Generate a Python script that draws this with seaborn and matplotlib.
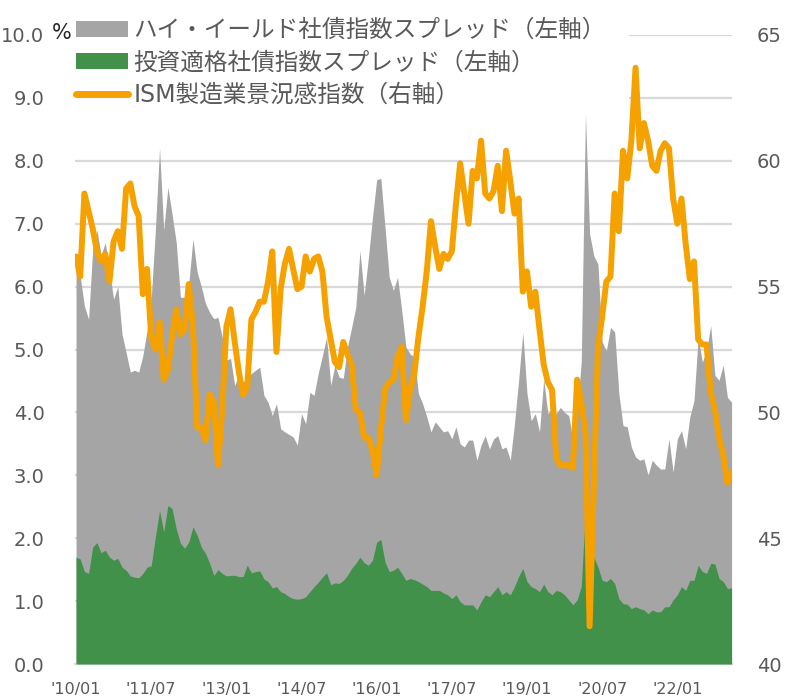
import numpy as np
import pandas as pd
import seaborn as sns
import matplotlib.pyplot as plt
from matplotlib.patches import Patch, Rectangle
from matplotlib.lines import Line2D

# monthly data, 2010/01 - 2023/02
hy_spread = [
    6.27, 6.16, 5.69, 5.48, 6.60, 6.90, 6.50, 6.70, 6.25, 5.80, 6.00, 5.25,  # 2010
    4.95, 4.64, 4.67, 4.64, 4.90, 5.30, 5.80, 6.90, 8.20, 6.90, 7.58, 7.15,  # 2011
    6.70, 5.83, 5.83, 6.05, 6.76, 6.23, 6.00, 5.73, 5.59, 5.49, 5.51, 5.20,  # 2012
    4.83, 4.86, 4.43, 4.59, 4.48, 4.55, 4.62, 4.67, 4.72, 4.27, 4.16, 3.95,  # 2013
    4.14, 3.74, 3.69, 3.65, 3.61, 3.48, 3.98, 3.82, 4.32, 4.27, 4.62, 4.90,  # 2014
    5.20, 4.43, 4.75, 4.56, 4.54, 5.04, 5.35, 5.67, 6.57, 5.86, 6.45, 7.10,  # 2015
    7.70, 7.72, 6.94, 6.15, 5.94, 6.15, 5.62, 5.04, 4.93, 4.88, 4.30, 4.14,  # 2016
    3.93, 3.69, 3.85, 3.77, 3.69, 3.71, 3.58, 3.77, 3.50, 3.45, 3.56, 3.56,  # 2017
    3.24, 3.48, 3.63, 3.42, 3.58, 3.63, 3.42, 3.45, 3.24, 3.82, 4.51, 5.27,  # 2018
    4.30, 3.87, 3.98, 3.69, 4.53, 3.98, 4.06, 3.98, 4.08, 4.00, 3.95, 3.56,  # 2019
    4.00, 4.80, 8.74, 6.84, 6.49, 6.36, 5.12, 4.98, 5.35, 5.28, 4.30, 3.79,  # 2020
    3.77, 3.45, 3.29, 3.24, 3.26, 3.00, 3.24, 3.16, 3.10, 3.10, 3.58, 3.05,  # 2021
    3.58, 3.71, 3.42, 3.93, 4.19, 5.20, 4.80, 4.98, 5.38, 4.59, 4.51, 4.75,  # 2022
    4.24, 4.16,                                                              # 2023
]

ig_spread = [
    1.70, 1.67, 1.47, 1.44, 1.86, 1.93, 1.77, 1.81, 1.70, 1.65, 1.68, 1.54,
    1.49, 1.40, 1.38, 1.37, 1.44, 1.54, 1.56, 2.02, 2.44, 2.10, 2.52, 2.47,
    2.15, 1.92, 1.84, 1.94, 2.18, 2.05, 1.86, 1.76, 1.60, 1.41, 1.50, 1.44,
    1.40, 1.41, 1.41, 1.39, 1.39, 1.57, 1.45, 1.47, 1.48, 1.35, 1.31, 1.21,
    1.23, 1.15, 1.12, 1.07, 1.04, 1.03, 1.04, 1.07, 1.15, 1.23, 1.30, 1.38,
    1.45, 1.26, 1.29, 1.28, 1.33, 1.41, 1.52, 1.60, 1.70, 1.61, 1.57, 1.65,
    1.94, 1.98, 1.62, 1.47, 1.49, 1.54, 1.44, 1.33, 1.36, 1.34, 1.31, 1.27,
    1.23, 1.17, 1.17, 1.17, 1.13, 1.10, 1.04, 1.10, 0.99, 0.94, 0.94, 0.94,
    0.86, 0.99, 1.10, 1.07, 1.15, 1.23, 1.10, 1.15, 1.10, 1.23, 1.39, 1.52,
    1.31, 1.23, 1.20, 1.15, 1.27, 1.15, 1.10, 1.17, 1.15, 1.10, 1.02, 0.94,
    1.02, 1.23, 2.45, 1.90, 1.70, 1.54, 1.33, 1.31, 1.36, 1.28, 1.04, 0.96,
    0.95, 0.88, 0.91, 0.88, 0.86, 0.80, 0.86, 0.83, 0.83, 0.91, 0.91, 1.02,
    1.10, 1.23, 1.17, 1.33, 1.33, 1.57, 1.47, 1.44, 1.60, 1.59, 1.36, 1.31,
    1.20, 1.21,
]

ism_pmi = [
    56.2, 55.4, 58.7, 58.0, 57.3, 56.4, 56.0, 56.3, 55.2, 56.8, 57.2, 56.5,
    58.9, 59.1, 58.2, 57.8, 54.7, 55.7, 53.0, 52.5, 53.6, 51.3, 51.7, 53.0,
    54.1, 53.1, 53.3, 55.1, 53.4, 49.4, 49.4, 48.9, 50.7, 50.4, 47.9, 50.1,
    53.4, 54.1, 52.8, 51.6, 50.7, 51.0, 53.7, 54.0, 54.4, 54.4, 55.2, 56.4,
    52.4, 54.9, 55.9, 56.5, 55.7, 54.9, 55.0, 56.2, 55.6, 56.1, 56.2, 55.6,
    53.8, 52.9, 52.0, 51.8, 52.8, 52.3, 51.9, 50.1, 50.0, 49.0, 49.0, 48.5,
    47.5, 49.3, 50.9, 51.2, 51.3, 52.2, 52.6, 49.7, 50.9, 51.5, 53.0, 54.2,
    55.6, 57.6, 56.6, 55.7, 56.3, 56.1, 56.4, 58.3, 59.9, 58.7, 57.5, 59.6,
    59.3, 60.8, 58.7, 58.5, 58.8, 59.8, 58.0, 60.4, 59.2, 57.9, 58.5, 54.8,
    55.6, 54.2, 54.8, 53.3, 51.9, 51.2, 50.9, 48.2, 47.9, 47.9, 47.9, 47.8,
    51.3, 50.4, 49.2, 41.5, 47.0, 52.6, 53.8, 55.2, 55.4, 58.7, 57.2, 60.4,
    59.3, 60.8, 63.7, 60.5, 61.5, 60.8, 59.8, 59.6, 60.4, 60.7, 60.5, 58.5,
    57.5, 58.5, 56.7, 55.3, 56.0, 52.9, 52.7, 52.7, 50.8, 50.1, 49.0, 48.3,
    47.2, 47.6,
]

tick_months = [0, 18, 36, 54, 72, 90, 108, 126, 144]
tick_labels = ["'10/01", "'11/07", "'13/01", "'14/07", "'16/01",
               "'17/07", "'19/01", "'20/07", "'22/01"]

series_names = ['ハイ・イールド社債指数スプレッド（左軸）',
                '投資適格社債指数スプレッド（左軸）',
                'ISM製造業景況感指数（右軸）']

GRAY = '#a5a5a5'
GREEN = '#41914a'
ORANGE = '#f5a100'
TXT = '#595959'
GRID = '#d9d9d9'

sns.set_theme(style='white')
plt.rcParams['font.family'] = ['DejaVu Sans', 'Noto Sans CJK JP']

df = pd.DataFrame({'month': np.arange(len(ism_pmi)),
                   'hy': hy_spread, 'ig': ig_spread, 'ism': ism_pmi})

W, H = 785, 697
fig = plt.figure(figsize=(W / 100, H / 100), dpi=100)
ax = fig.add_axes([75 / W, (H - 664) / H, (732 - 75) / W, (664 - 35) / H])
ax2 = ax.twinx()

# spreads as areas on the left axis
ax.fill_between(df['month'], df['hy'], color=GRAY, lw=0, zorder=2)
ax.fill_between(df['month'], df['ig'], color=GREEN, lw=0, zorder=3)

# ISM on the right axis
sns.lineplot(data=df, x='month', y='ism', ax=ax2, color=ORANGE, lw=4.3,
             legend=False, solid_joinstyle='round', solid_capstyle='round')

ax.set_xlim(-0.25, 157.1)
ax.set_ylim(0, 10)
ax2.set_ylim(40, 65)

ax.set_yticks(np.arange(0, 11))
ax.set_yticklabels([f'{v:.1f}' for v in np.arange(0, 11)])
ax2.set_yticks(np.arange(40, 66, 5))
ax.set_xticks(tick_months)
ax.set_xticklabels(tick_labels)

ax.grid(axis='y', color=GRID, lw=1.6)
ax.grid(axis='x', visible=False)
ax2.grid(False)
ax.set_axisbelow(True)

for s in ['left', 'right', 'top']:
    ax.spines[s].set_visible(False)
for s in ax2.spines.values():
    s.set_visible(False)
ax.spines['bottom'].set_color(GRID)
ax.spines['bottom'].set_linewidth(1.6)

ax.tick_params(axis='x', length=5, width=1.5, color=GRID, labelsize=11.5,
               labelcolor=TXT, pad=8)
ax.tick_params(axis='y', length=0, labelsize=14, labelcolor=TXT, pad=22)
ax2.tick_params(axis='y', length=0, labelsize=14, labelcolor=TXT, pad=18)
ax.set_xlabel('')
ax.set_ylabel('')
ax2.set_xlabel('')
ax2.set_ylabel('')

fig.text(52 / W, 1 - 33 / H, '%', fontsize=15, color='#262626', va='center')

# white box behind the legend
fig.patches.append(Rectangle((72 / W, 1 - 109 / H), (629 - 72) / W, 109 / H,
                             transform=fig.transFigure, facecolor='white',
                             edgecolor='none', zorder=4))

handles = [Patch(facecolor=GRAY, edgecolor='none'),
           Patch(facecolor=GREEN, edgecolor='none'),
           Line2D([], [], color=ORANGE, lw=5, solid_capstyle='round')]
fig.legend(handles, series_names, loc='upper left',
           bbox_to_anchor=(76 / W, 1 - 18 / H), frameon=False, fontsize=17,
           handlelength=2.2, handleheight=0.68, handletextpad=0.22,
           labelspacing=0.36, borderpad=0, borderaxespad=0, labelcolor=TXT)

fig.savefig('out.png', dpi=100)
